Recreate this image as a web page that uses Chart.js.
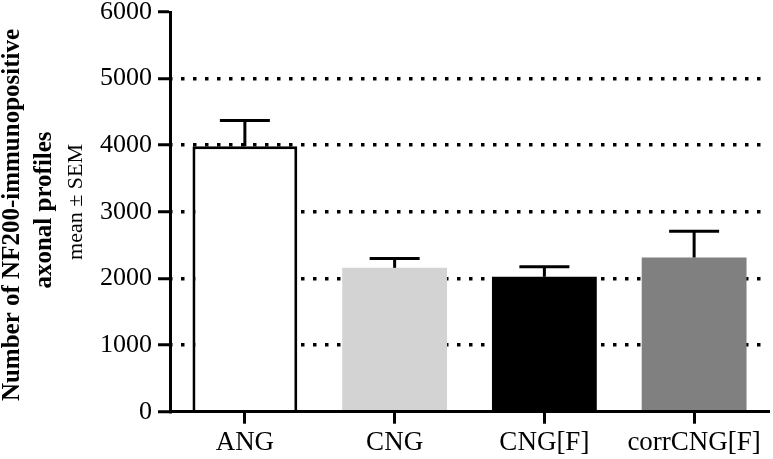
<!DOCTYPE html>
<html>
<head>
<meta charset="utf-8">
<script src="https://cdn.jsdelivr.net/npm/chart.js@4"></script>
<style>
  html, body { margin: 0; padding: 0; background: #ffffff; }
  #wrap { width: 773px; height: 459px; position: relative; }
</style>
</head>
<body>
<div id="wrap"><canvas id="c" width="773" height="459"></canvas></div>
<script>
const categories = ['ANG', 'CNG', 'CNG[F]', 'corrCNG[F]'];
const meanValues = [3985, 2160, 2025, 2315];
const semValues = [385, 140, 150, 395];
const barColors = ['#ffffff', '#d3d3d3', '#000000', '#808080'];
const yTickValues = [0, 1000, 2000, 3000, 4000, 5000, 6000];
const yTitleLines = ['Number of NF200-immunopositive', 'axonal profiles', 'mean \u00b1 SEM'];

const FONT = '"Liberation Serif", "Times New Roman", serif';

const errorBarPlugin = {
  id: 'errorBars',
  afterDatasetsDraw(chart) {
    const ctx = chart.ctx;
    const meta = chart.getDatasetMeta(0);
    const yScale = chart.scales.y;
    ctx.save();
    ctx.strokeStyle = '#000000';
    ctx.lineWidth = 3;
    ctx.lineCap = 'butt';
    meta.data.forEach((bar, i) => {
      const x = bar.x;
      const yBase = yScale.getPixelForValue(meanValues[i]);
      const yTop = yScale.getPixelForValue(meanValues[i] + semValues[i]);
      ctx.beginPath();
      ctx.moveTo(x, yBase);
      ctx.lineTo(x, yTop);
      ctx.stroke();
      ctx.beginPath();
      ctx.moveTo(x - 25, yTop);
      ctx.lineTo(x + 25, yTop);
      ctx.stroke();
    });
    ctx.restore();
  }
};

const yTitlePlugin = {
  id: 'yTitle',
  afterDraw(chart) {
    const ctx = chart.ctx;
    const specs = [
      { text: yTitleLines[0], x: 19, y: 215, font: 'bold 25px ' + FONT },
      { text: yTitleLines[1], x: 51, y: 210, font: 'bold 25px ' + FONT },
      { text: yTitleLines[2], x: 82, y: 202, font: '22px ' + FONT }
    ];
    ctx.save();
    ctx.fillStyle = '#000000';
    ctx.textAlign = 'center';
    ctx.textBaseline = 'alphabetic';
    specs.forEach(s => {
      ctx.save();
      ctx.translate(s.x, s.y);
      ctx.rotate(-Math.PI / 2);
      ctx.font = s.font;
      ctx.fillText(s.text, 0, 0);
      ctx.restore();
    });
    ctx.restore();
  }
};

new Chart(document.getElementById('c'), {
  type: 'bar',
  data: {
    labels: categories,
    datasets: [{
      data: meanValues,
      backgroundColor: barColors,
      borderColor: ['#000000', 'rgba(0,0,0,0)', 'rgba(0,0,0,0)', 'rgba(0,0,0,0)'],
      borderWidth: [3, 0, 0, 0],
      barPercentage: 0.7,
      categoryPercentage: 1.0
    }]
  },
  options: {
    responsive: false,
    animation: false,
    devicePixelRatio: 1,
    layout: { padding: { left: 0, right: 4, top: 12, bottom: 0 } },
    plugins: {
      legend: { display: false },
      tooltip: { enabled: false },
      title: { display: false }
    },
    scales: {
      x: {
        type: 'category',
        offset: true,
        afterFit(scale) { scale.height = 47.3; },
        grid: {
          offset: false,
          drawOnChartArea: false,
          drawTicks: true,
          tickLength: 12,
          tickWidth: 3,
          tickColor: '#000000'
        },
        border: { display: true, color: '#000000', width: 3 },
        ticks: {
          color: '#000000',
          padding: 3,
          maxRotation: 0,
          autoSkip: false,
          font: { family: FONT, size: 27, lineHeight: 1.2 }
        }
      },
      y: {
        min: 0,
        max: 6000,
        afterFit(scale) { scale.width = 170; },
        afterBuildTicks(scale) { scale.ticks = yTickValues.map(v => ({ value: v })); },
        grid: {
          color: (c) => (c.tick && (c.tick.value === 0 || c.tick.value === 6000)) ? 'rgba(0,0,0,0)' : '#000000',
          lineWidth: 3.5,
          drawTicks: true,
          tickLength: 12,
          tickWidth: 3,
          tickColor: '#000000'
        },
        border: { display: true, color: '#000000', width: 3, dash: [3.5, 8.5], dashOffset: -9 },
        ticks: {
          color: '#000000',
          padding: 6,
          callback: (v) => String(v),
          font: { family: FONT, size: 26, lineHeight: 0.4 }
        }
      }
    }
  },
  plugins: [errorBarPlugin, yTitlePlugin]
});
</script>
</body>
</html>
